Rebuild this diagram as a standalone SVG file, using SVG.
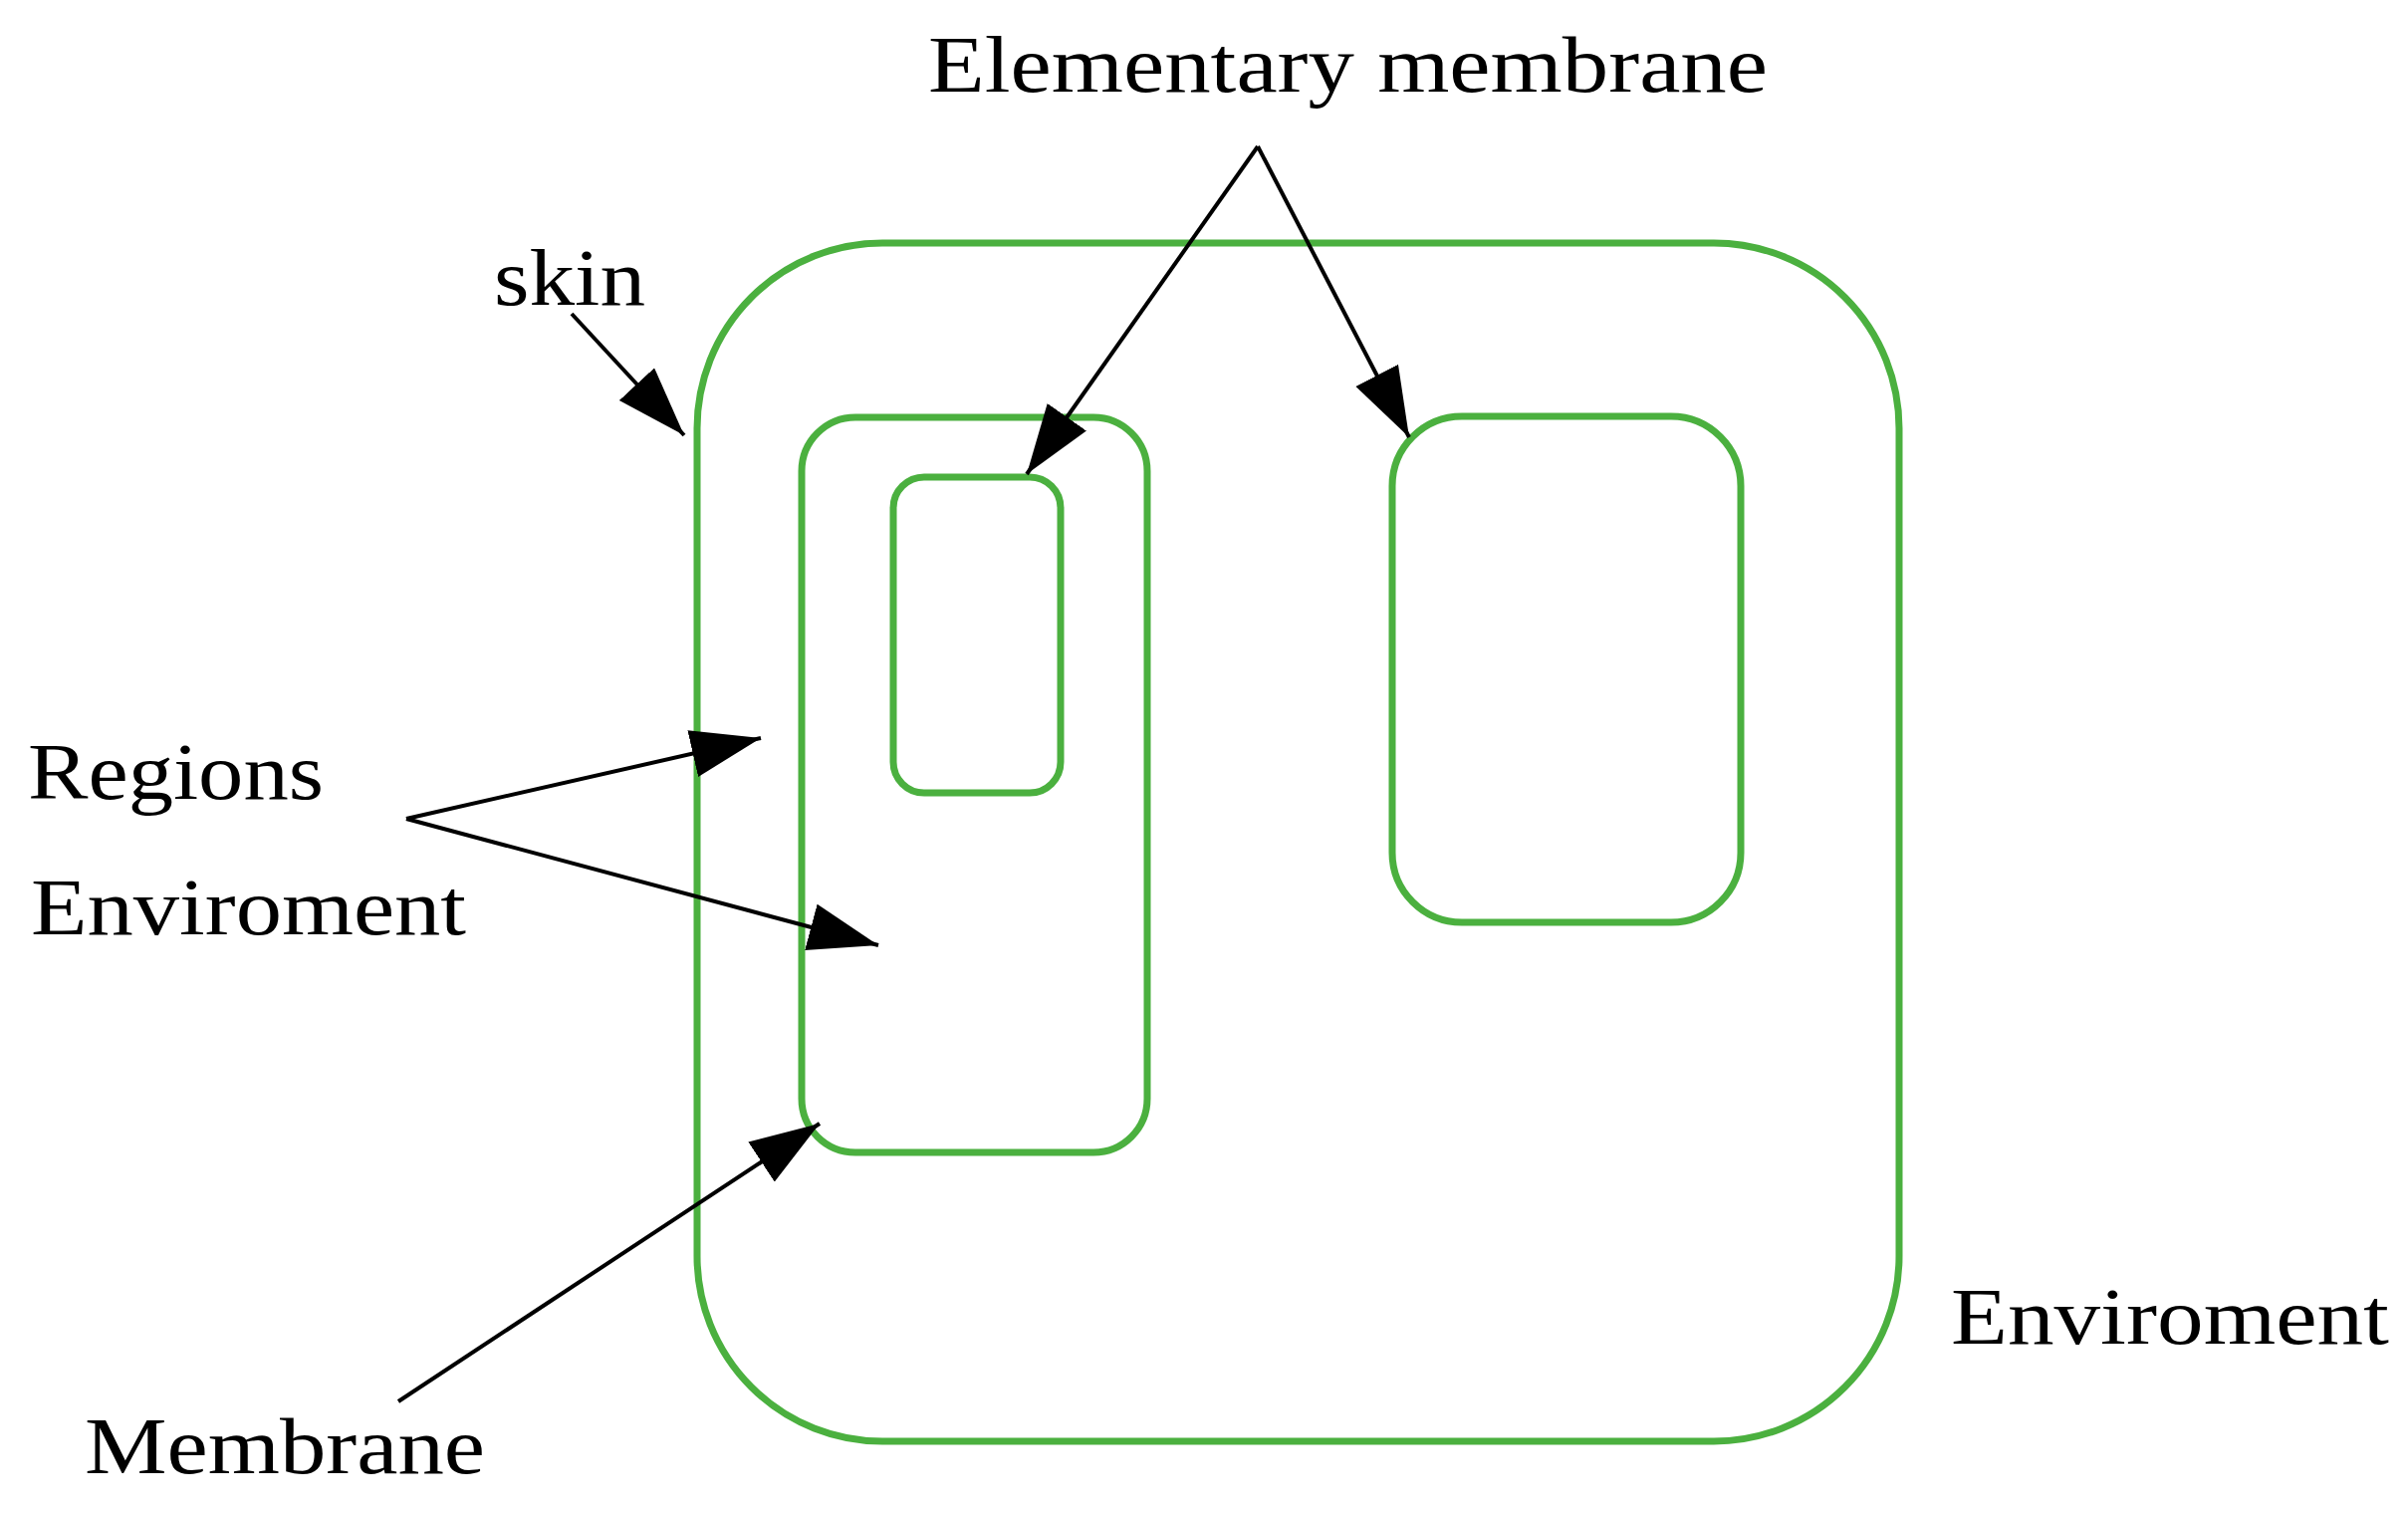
<svg xmlns="http://www.w3.org/2000/svg" width="2418" height="1519" viewBox="0 0 2418 1519">
<style>
.m{fill:none;stroke:#4bb03f;stroke-width:7}
.t{font-family:"Liberation Serif",serif;font-size:80px;fill:#000}
.c{stroke:#000;stroke-width:4;fill:none;marker-end:url(#a)}
</style>
<defs><marker id="a" markerUnits="userSpaceOnUse" markerWidth="72" markerHeight="50" refX="70" refY="24" orient="auto"><path d="M0,0 L70,24 L0,48 Z" fill="#000"/></marker></defs>
<rect width="2418" height="1519" fill="#fff"/>
<g id="skin-membrane"><rect class="m" x="700" y="244" width="1207" height="1203" rx="186"/></g>
<g id="membrane-left"><rect class="m" x="805" y="419" width="347" height="738" rx="54"/></g>
<g id="elementary-small"><rect class="m" x="897" y="479" width="168" height="317" rx="31"/></g>
<g id="elementary-right"><rect class="m" x="1398" y="418" width="350" height="508" rx="70"/></g>
<g id="labels">
<text class="t" x="932" y="92" textLength="843" lengthAdjust="spacingAndGlyphs">Elementary membrane</text>
<text class="t" x="496" y="306" textLength="152" lengthAdjust="spacingAndGlyphs">skin</text>
<text class="t" x="28" y="802" textLength="297" lengthAdjust="spacingAndGlyphs">Regions</text>
<text class="t" x="31" y="938" textLength="437" lengthAdjust="spacingAndGlyphs">Enviroment</text>
<text class="t" x="1959" y="1349" textLength="440" lengthAdjust="spacingAndGlyphs">Enviroment</text>
<text class="t" x="85" y="1479" textLength="402" lengthAdjust="spacingAndGlyphs">Membrane</text>
</g>
<g id="connectors">
<line class="c" x1="574" y1="315" x2="687" y2="437"/>
<line class="c" x1="1263" y1="147" x2="1031" y2="476"/>
<line class="c" x1="1263" y1="147" x2="1415" y2="439"/>
<line class="c" x1="408" y1="822" x2="764" y2="741"/>
<line class="c" x1="408" y1="822" x2="882" y2="949"/>
<line class="c" x1="400" y1="1407" x2="823" y2="1128"/>
</g>
</svg>
